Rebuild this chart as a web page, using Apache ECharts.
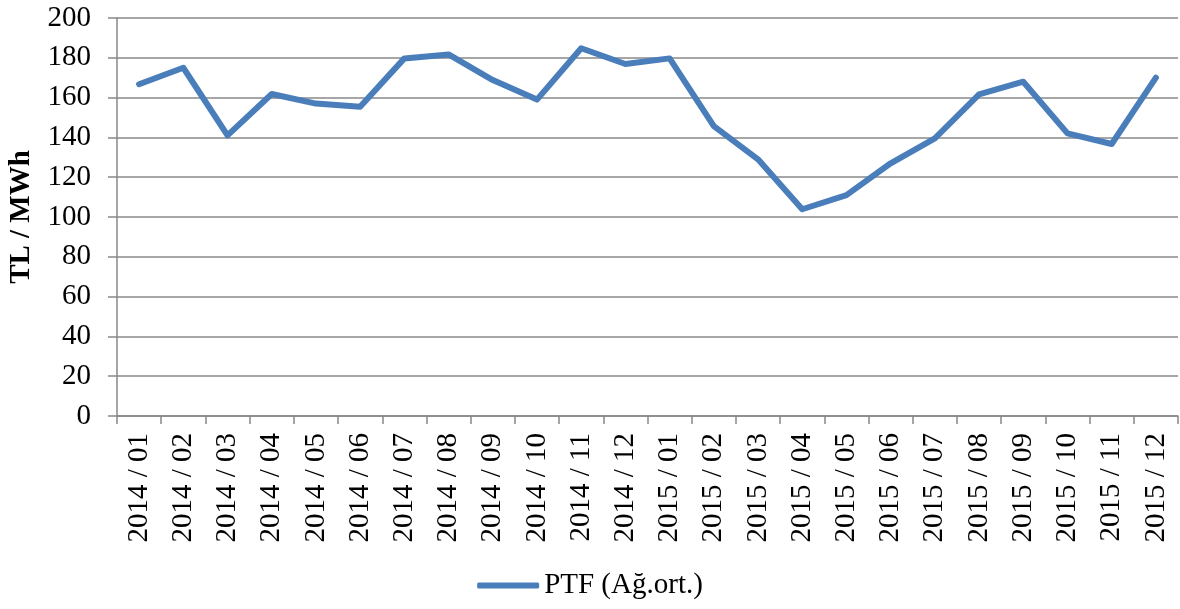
<!DOCTYPE html>
<html>
<head>
<meta charset="utf-8">
<script src="https://cdn.jsdelivr.net/npm/echarts@6/dist/echarts.min.js"></script>
<style>
  html, body { margin: 0; padding: 0; background: #fff; }
  #chart { width: 1180px; height: 609px; }
</style>
</head>
<body>
<div id="chart"></div>
<script>
// aylar
const months = [
    '2014 / 01', '2014 / 02', '2014 / 03', '2014 / 04', '2014 / 05', '2014 / 06',
    '2014 / 07', '2014 / 08', '2014 / 09', '2014 / 10', '2014 / 11', '2014 / 12',
    '2015 / 01', '2015 / 02', '2015 / 03', '2015 / 04', '2015 / 05', '2015 / 06',
    '2015 / 07', '2015 / 08', '2015 / 09', '2015 / 10', '2015 / 11', '2015 / 12'
];
// PTF ağırlıklı ortalama, TL/MWh
const ptf = [
    166.7, 175, 141, 161.8, 157, 155.4,
    179.7, 181.7, 168.8, 159, 184.8, 176.9,
    179.7, 145.7, 129, 103.9, 111, 127,
    139.5, 161.6, 168, 142, 136.7, 170
];
const seriesName = 'PTF (Ağ.ort.)';
const yName = 'TL / MWh';

const font = '"Liberation Serif", "Times New Roman", serif';
const gridColor = '#888888';

const chart = echarts.init(document.getElementById('chart'));
chart.setOption({
    animation: false,
    textStyle: { fontFamily: font },
    grid: { left: 117, right: 2, top: 18, bottom: 193, outerBoundsMode: 'none', containLabel: false },
    legend: {
        bottom: 4,
        left: 'center',
        itemWidth: 62,
        itemHeight: 6,
        itemGap: 6,
        icon: 'roundRect',
        textStyle: { fontFamily: font, fontSize: 29, color: '#000' },
        data: [seriesName]
    },
    xAxis: {
        type: 'category',
        data: months,
        boundaryGap: true,
        axisLine: { lineStyle: { color: gridColor, width: 1.5 } },
        axisTick: { show: true, length: 8, interval: 0, lineStyle: { color: gridColor, width: 1.5 } },
        axisLabel: {
            rotate: 90,
            interval: 0,
            margin: 17,
            fontFamily: font,
            fontSize: 29,
            color: '#000'
        }
    },
    yAxis: {
        type: 'value',
        min: 0,
        max: 200,
        interval: 20,
        name: yName,
        nameLocation: 'middle',
        nameGap: 81,
        nameRotate: 90,
        nameTextStyle: { fontFamily: font, fontSize: 29, fontWeight: 'bold', color: '#000' },
        axisLine: { show: true, lineStyle: { color: gridColor, width: 1.5 } },
        axisTick: { show: true, length: 9, lineStyle: { color: gridColor, width: 1.5 } },
        axisLabel: { fontFamily: font, fontSize: 29, color: '#000', margin: 26 },
        splitLine: { lineStyle: { color: gridColor, width: 1.5 } }
    },
    series: [{
        name: seriesName,
        type: 'line',
        data: ptf,
        symbol: 'none',
        lineStyle: { color: '#4a7ebb', width: 6, cap: 'round', join: 'round' },
        itemStyle: { color: '#4a7ebb' }
    }]
});
</script>
</body>
</html>
